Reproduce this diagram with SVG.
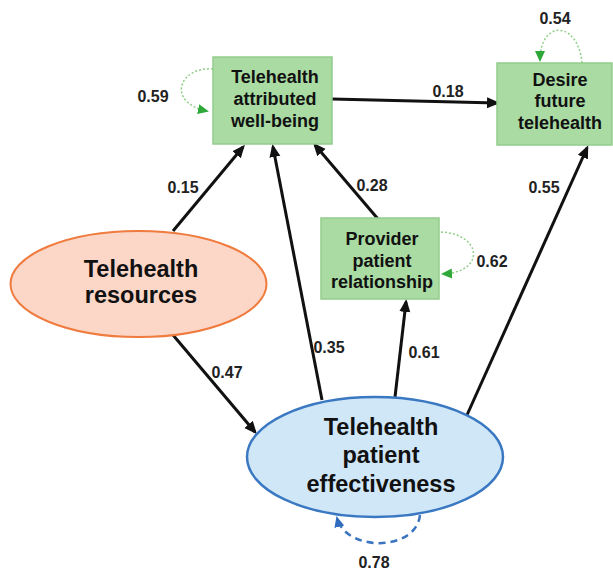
<svg xmlns="http://www.w3.org/2000/svg" width="613" height="572" viewBox="0 0 613 572">
<style>
.box{fill:#a9dba3;stroke:#92cd8c;stroke-width:1.5}
.bt{font-family:"Liberation Sans",Arial,sans-serif;font-weight:bold;font-size:18px;fill:#111;text-anchor:middle}
.et{font-family:"Liberation Sans",Arial,sans-serif;font-weight:bold;font-size:23.5px;fill:#111;text-anchor:middle}
.lb{font-family:"Liberation Sans",Arial,sans-serif;font-weight:bold;font-size:16px;fill:#222;text-anchor:middle}
.arr{stroke:#111;stroke-width:3;fill:none;marker-end:url(#ah)}
.gl{stroke:#8fcf86;stroke-width:1.5;stroke-dasharray:2 2;fill:none;marker-end:url(#gh)}
.bl{stroke:#3a74c0;stroke-width:2.5;stroke-dasharray:7 5;fill:none;marker-end:url(#bh)}
</style>
<defs>
<marker id="ah" markerUnits="userSpaceOnUse" markerWidth="14" markerHeight="12" refX="10" refY="5.5" orient="auto" viewBox="0 0 14 11"><path d="M0,0 L13,5.5 L0,11 z" fill="#111"/></marker>
<marker id="gh" markerUnits="userSpaceOnUse" markerWidth="12" markerHeight="12" refX="9" refY="5" orient="auto" viewBox="0 0 12 10"><path d="M0,0 L11,5 L0,10 z" fill="#2fa83a"/></marker>
<marker id="bh" markerUnits="userSpaceOnUse" markerWidth="12" markerHeight="12" refX="9" refY="5" orient="auto" viewBox="0 0 12 10"><path d="M0,0 L11,5 L0,10 z" fill="#2f6cc0"/></marker>
</defs>
<g id="connectors">
<path class="arr" d="M173,231 L243,147"/>
<path class="arr" d="M173,335 L255,432"/>
<path class="arr" d="M322,400 L273,147"/>
<path class="arr" d="M395,397 L406,302"/>
<path class="arr" d="M467,415 L587,148"/>
<path class="arr" d="M378,219 L315,145"/>
<path class="arr" d="M332,99 L497,103"/>
<path class="gl" d="M213,69 C180,66 165,102 207,111"/>
<path class="gl" d="M582,63 C578,20 540,20 540,60"/>
<path class="gl" d="M441,232 C482,234 486,272 443,274"/>
<path class="bl" d="M420,515 C416,552 346,552 337,518"/>
<text class="lb" x="153" y="102">0.59</text>
<text class="lb" x="555" y="24">0.54</text>
<text class="lb" x="492" y="267">0.62</text>
<text class="lb" x="372" y="191">0.28</text>
<text class="lb" x="183" y="193">0.15</text>
<text class="lb" x="227" y="378">0.47</text>
<text class="lb" x="329" y="353">0.35</text>
<text class="lb" x="424" y="358">0.61</text>
<text class="lb" x="544" y="193">0.55</text>
<text class="lb" x="448" y="97">0.18</text>
<text class="lb" x="374" y="568">0.78</text>
</g>
<g id="wellbeing">
<rect class="box" x="213" y="57" width="119" height="87"/>
<text class="bt" x="275" y="83">Telehealth</text>
<text class="bt" x="275" y="105">attributed</text>
<text class="bt" x="275" y="127">well-being</text>
</g>
<g id="desire">
<rect class="box" x="497" y="63" width="115" height="82"/>
<text class="bt" x="560" y="86">Desire</text>
<text class="bt" x="560" y="107">future</text>
<text class="bt" x="560" y="129">telehealth</text>
</g>
<g id="provider">
<rect class="box" x="321" y="218" width="118" height="81"/>
<text class="bt" x="382" y="245">Provider</text>
<text class="bt" x="382" y="267">patient</text>
<text class="bt" x="382" y="288">relationship</text>
</g>
<g id="resources">
<ellipse cx="138.5" cy="284" rx="128" ry="53" fill="#fcd6c6" stroke="#ef7b3e" stroke-width="2"/>
<text class="et" x="141" y="277">Telehealth</text>
<text class="et" x="141" y="303">resources</text>
</g>
<g id="effectiveness">
<ellipse cx="375" cy="457" rx="128" ry="60" fill="#d0e7f8" stroke="#3a78c2" stroke-width="2.5"/>
<text class="et" x="381" y="435">Telehealth</text>
<text class="et" x="381" y="463">patient</text>
<text class="et" x="381" y="492">effectiveness</text>
</g>
</svg>
